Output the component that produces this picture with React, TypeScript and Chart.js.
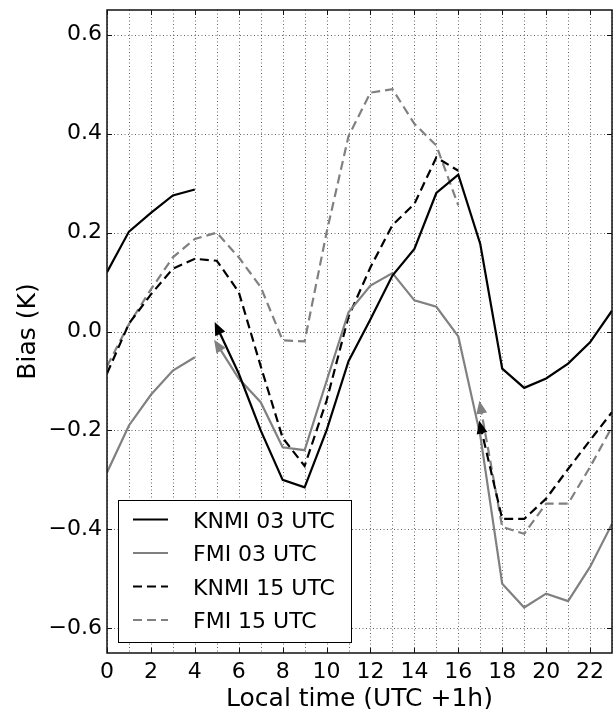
import React, { useEffect, useRef } from "react";
import { Chart, registerables } from "chart.js";

Chart.register(...registerables);

// ---- data ----
const hours = [0, 1, 2, 3, 4, 5, 6, 7, 8, 9, 10, 11, 12, 13, 14, 15, 16, 17, 18, 19, 20, 21, 22, 23];
const knmi03 = [0.12, 0.202, 0.24, 0.275, 0.287, 0.01, -0.085, -0.2, -0.3, -0.315, -0.2, -0.06, 0.025, 0.113, 0.167, 0.28, 0.317, 0.177, -0.075, -0.114, -0.095, -0.065, -0.022, 0.042];
const fmi03 = [-0.285, -0.19, -0.128, -0.079, -0.052, -0.025, -0.095, -0.143, -0.234, -0.24, -0.1, 0.039, 0.093, 0.118, 0.063, 0.05, -0.01, -0.21, -0.51, -0.558, -0.53, -0.545, -0.476, -0.389];
const knmi15 = [-0.085, 0.016, 0.075, 0.127, 0.147, 0.143, 0.08, -0.07, -0.215, -0.272, -0.14, 0.03, 0.13, 0.215, 0.258, 0.352, 0.325, -0.19, -0.379, -0.379, -0.338, -0.278, -0.22, -0.163];
const fmi15 = [-0.07, 0.015, 0.085, 0.15, 0.187, 0.2, 0.15, 0.09, -0.018, -0.02, 0.2, 0.395, 0.483, 0.49, 0.42, 0.376, 0.255, -0.15, -0.395, -0.409, -0.348, -0.348, -0.274, -0.193];
const start03 = 5; // first hour of the 03 UTC run (arrow)
const start15 = 17; // first hour of the 15 UTC run (arrow)
const seriesNames = ["KNMI 03 UTC", "FMI 03 UTC", "KNMI 15 UTC", "FMI 15 UTC"];
const yTicks = [-0.6, -0.4, -0.2, 0.0, 0.2, 0.4, 0.6];
const xLabelHours = [0, 2, 4, 6, 8, 10, 12, 14, 16, 18, 20, 22];
const xTitle = "Local time (UTC +1h)";
const yTitle = "Bias (K)";

const GREY = "#808080";
const FONT = '"DejaVu Sans", Verdana, sans-serif';
const DASH = [9, 5];

function buildPoints(vals: number[], start: number) {
  const pts: { x: number; y: number | null }[] = hours.map((h, i) => ({ x: h, y: vals[i] }));
  const idx = hours.indexOf(start);
  pts.splice(idx, 0, { x: start - 0.5, y: null });
  return pts;
}

const styles = [
  { color: "#000000", dash: [] as number[] },
  { color: GREY, dash: [] as number[] },
  { color: "#000000", dash: DASH },
  { color: GREY, dash: DASH },
];

const decoPlugin = {
  id: "deco",
  beforeDatasetsDraw(chart: any) {
    const { ctx, chartArea: a, scales } = chart;
    const xs = scales.x, ys = scales.y;
    ctx.save();
    ctx.strokeStyle = "rgba(0,0,0,0.6)";
    ctx.lineWidth = 1;
    ctx.setLineDash([1, 2.5]);
    hours.forEach((h) => {
      const px = Math.round(xs.getPixelForValue(h)) + 0.5;
      ctx.beginPath();
      ctx.moveTo(px, a.top);
      ctx.lineTo(px, a.bottom);
      ctx.stroke();
    });
    yTicks.forEach((v) => {
      const py = Math.round(ys.getPixelForValue(v)) + 0.5;
      ctx.beginPath();
      ctx.moveTo(a.left, py);
      ctx.lineTo(a.right, py);
      ctx.stroke();
    });
    ctx.restore();
  },
  afterDatasetsDraw(chart: any) {
    const { ctx } = chart;
    ctx.save();
    chart.data.datasets.forEach((ds: any, di: number) => {
      const meta = chart.getDatasetMeta(di);
      const nullIdx = ds.data.findIndex((p: any) => p.y === null);
      const p0 = meta.data[nullIdx + 1];
      const p1 = meta.data[nullIdx + 2];
      if (!p0 || !p1) return;
      let dx = p0.x - p1.x, dy = p0.y - p1.y;
      const len = Math.hypot(dx, dy);
      dx /= len; dy /= len;
      const tipX = p0.x + dx * 5, tipY = p0.y + dy * 5;
      const L = 13, W = 5.5;
      const bx = tipX - dx * L, by = tipY - dy * L;
      ctx.fillStyle = styles[di].color;
      ctx.beginPath();
      ctx.moveTo(tipX, tipY);
      ctx.lineTo(bx - dy * W, by + dx * W);
      ctx.lineTo(bx + dy * W, by - dx * W);
      ctx.closePath();
      ctx.fill();
    });
    ctx.restore();
  },
  afterDraw(chart: any) {
    const { ctx, chartArea: a, scales } = chart;
    const xs = scales.x, ys = scales.y;
    ctx.save();
    // frame
    ctx.strokeStyle = "#111";
    ctx.lineWidth = 1.5;
    ctx.setLineDash([]);
    ctx.strokeRect(a.left, a.top, a.right - a.left, a.bottom - a.top);
    // inward tick marks
    ctx.lineWidth = 1;
    xLabelHours.forEach((h) => {
      const px = Math.round(xs.getPixelForValue(h)) + 0.5;
      ctx.beginPath();
      ctx.moveTo(px, a.bottom);
      ctx.lineTo(px, a.bottom - 5);
      ctx.moveTo(px, a.top);
      ctx.lineTo(px, a.top + 5);
      ctx.stroke();
    });
    yTicks.forEach((v) => {
      const py = Math.round(ys.getPixelForValue(v)) + 0.5;
      ctx.beginPath();
      ctx.moveTo(a.left, py);
      ctx.lineTo(a.left + 5, py);
      ctx.moveTo(a.right, py);
      ctx.lineTo(a.right - 5, py);
      ctx.stroke();
    });
    // axis titles
    ctx.fillStyle = "#000";
    ctx.font = `25px ${FONT}`;
    ctx.textAlign = "center";
    ctx.textBaseline = "alphabetic";
    ctx.fillText(xTitle, (a.left + a.right) / 2, 706);
    ctx.save();
    ctx.translate(35, (a.top + a.bottom) / 2);
    ctx.rotate(-Math.PI / 2);
    ctx.fillText(yTitle, 0, 0);
    ctx.restore();
    // legend
    const L = { x: 118.5, y: 500.5, w: 233, h: 142 };
    ctx.fillStyle = "#fff";
    ctx.fillRect(L.x, L.y, L.w, L.h);
    ctx.strokeStyle = "#000";
    ctx.lineWidth = 1;
    ctx.strokeRect(L.x, L.y, L.w, L.h);
    ctx.font = `22px ${FONT}`;
    ctx.textAlign = "left";
    ctx.textBaseline = "alphabetic";
    const rowY = [519.5, 553, 586.5, 620];
    seriesNames.forEach((name, i) => {
      ctx.strokeStyle = styles[i].color;
      ctx.lineWidth = 2.2;
      ctx.setLineDash(styles[i].dash);
      ctx.beginPath();
      ctx.moveTo(133, rowY[i]);
      ctx.lineTo(168, rowY[i]);
      ctx.stroke();
      ctx.setLineDash([]);
      ctx.fillStyle = "#000";
      ctx.fillText(name, 193, rowY[i] + 8);
    });
    ctx.restore();
  },
};

export default function App() {
  const ref = useRef<HTMLCanvasElement | null>(null);
  useEffect(() => {
    if (!ref.current) return;
    const seriesVals = [knmi03, fmi03, knmi15, fmi15];
    const starts = [start03, start03, start15, start15];
    const chart = new Chart(ref.current, {
      type: "line",
      data: {
        datasets: seriesVals.map((vals, i) => ({
          label: seriesNames[i],
          data: buildPoints(vals, starts[i]),
          borderColor: styles[i].color,
          backgroundColor: styles[i].color,
          borderWidth: 2.2,
          borderDash: styles[i].dash,
          pointRadius: 0,
          spanGaps: false,
          tension: 0,
          fill: false,
        })),
      },
      options: {
        animation: false,
        responsive: false,
        devicePixelRatio: 1,
        parsing: { xAxisKey: "x", yAxisKey: "y" },
        layout: { padding: { top: 10, right: 2, left: 0, bottom: 0 } },
        plugins: { legend: { display: false }, tooltip: { enabled: false } },
        scales: {
          x: {
            type: "linear",
            min: 0,
            max: 23,
            grid: { display: false, drawTicks: false },
            border: { display: false },
            afterBuildTicks: (s: any) => {
              s.ticks = hours.map((h) => ({ value: h }));
            },
            afterFit: (s: any) => {
              s.height = 56;
              s.paddingLeft = 0;
              s.paddingRight = 0;
            },
            ticks: {
              autoSkip: false,
              maxRotation: 0,
              padding: 6,
              color: "#000",
              font: { family: FONT, size: 22 },
              callback: (v: any) => (xLabelHours.includes(Number(v)) ? String(v) : ""),
            },
          },
          y: {
            type: "linear",
            min: -0.65,
            max: 0.65,
            grid: { display: false, drawTicks: false },
            border: { display: false },
            afterBuildTicks: (s: any) => {
              s.ticks = yTicks.map((v) => ({ value: v }));
            },
            afterFit: (s: any) => {
              s.width = 107;
              s.paddingTop = 0;
              s.paddingBottom = 0;
            },
            ticks: {
              padding: 5,
              color: "#000",
              font: { family: FONT, size: 22 },
              callback: (v: any) => Number(v).toFixed(1).replace("-", "\u2212"),
            },
          },
        },
      },
      plugins: [decoPlugin],
    } as any);
    return () => chart.destroy();
  }, []);
  return (
    <div style={{ position: "fixed", left: 0, top: 0, width: 614, height: 709, background: "#fff" }}>
      <canvas ref={ref} width={614} height={709} style={{ display: "block" }} />
    </div>
  );
}
